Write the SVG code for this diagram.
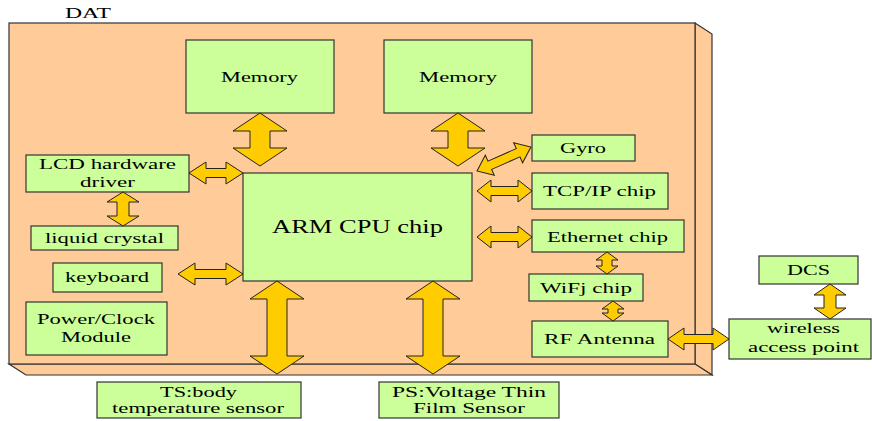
<svg xmlns="http://www.w3.org/2000/svg" width="872" height="421" viewBox="0 0 872 421">
<style>
.bx{fill:#FFCC99;stroke:#333;stroke-width:1.2}
.n{fill:#CCFF99;stroke:#333;stroke-width:1.2}
.a{fill:#FFCC00;stroke:#222;stroke-width:1}
text{font-family:"Liberation Serif","Times New Roman",serif;font-size:15px;fill:#000;text-anchor:middle}
</style>
<rect width="872" height="421" fill="#fff"/>
<g id="dat">
<polygon class="bx" points="695,23 712,34 712,375 695,364"/>
<polygon class="bx" points="9,364 695,364 712,375 26,375"/>
<rect class="bx" x="9" y="23" width="686" height="341"/>
<text x="88" y="18" textLength="46" lengthAdjust="spacingAndGlyphs">DAT</text>
</g>
<g id="mem1"><rect class="n" x="186" y="40" width="148" height="73"/><text x="259.5" y="81.5" textLength="77" lengthAdjust="spacingAndGlyphs">Memory</text></g>
<g id="mem2"><rect class="n" x="384" y="40" width="148" height="73"/><text x="458" y="81.5" textLength="78" lengthAdjust="spacingAndGlyphs">Memory</text></g>
<g id="arm"><rect class="n" x="243" y="173" width="229" height="108"/><text x="357.5" y="233" style="font-size:18px" textLength="171" lengthAdjust="spacingAndGlyphs">ARM CPU chip</text></g>
<g id="lcd"><rect class="n" x="26" y="155" width="163" height="37"/><text x="107.5" y="169" textLength="137" lengthAdjust="spacingAndGlyphs">LCD hardware</text><text x="107.5" y="187" textLength="55" lengthAdjust="spacingAndGlyphs">driver</text></g>
<g id="liquid"><rect class="n" x="31" y="226" width="147" height="24"/><text x="104.5" y="243" textLength="119" lengthAdjust="spacingAndGlyphs">liquid crystal</text></g>
<g id="keyboard"><rect class="n" x="53" y="263" width="109" height="29"/><text x="107" y="282" textLength="84" lengthAdjust="spacingAndGlyphs">keyboard</text></g>
<g id="power"><rect class="n" x="26" y="302" width="141" height="53"/><text x="96" y="324" textLength="118" lengthAdjust="spacingAndGlyphs">Power/Clock</text><text x="96" y="342" textLength="70" lengthAdjust="spacingAndGlyphs">Module</text></g>
<g id="gyro"><rect class="n" x="532" y="135" width="103" height="26"/><text x="583" y="153" textLength="46" lengthAdjust="spacingAndGlyphs">Gyro</text></g>
<g id="tcp"><rect class="n" x="532" y="173" width="136" height="36"/><text x="599.5" y="196" textLength="113" lengthAdjust="spacingAndGlyphs">TCP/IP chip</text></g>
<g id="eth"><rect class="n" x="532" y="220" width="152" height="32"/><text x="607.5" y="242" textLength="121" lengthAdjust="spacingAndGlyphs">Ethernet chip</text></g>
<g id="wifi"><rect class="n" x="529" y="274" width="114" height="27"/><text x="586" y="293" textLength="92" lengthAdjust="spacingAndGlyphs">WiFj chip</text></g>
<g id="rf"><rect class="n" x="532" y="321" width="136" height="36"/><text x="599.5" y="344" textLength="111" lengthAdjust="spacingAndGlyphs">RF Antenna</text></g>
<g id="dcs"><rect class="n" x="759" y="256" width="99" height="28"/><text x="808.5" y="275" textLength="43" lengthAdjust="spacingAndGlyphs">DCS</text></g>
<g id="wap"><rect class="n" x="729" y="319" width="142" height="40"/><text x="803.5" y="333" textLength="73" lengthAdjust="spacingAndGlyphs">wireless</text><text x="803.5" y="352" textLength="111" lengthAdjust="spacingAndGlyphs">access point</text></g>
<g id="ts"><rect class="n" x="97" y="382" width="204" height="36"/><text x="198.5" y="397" textLength="77" lengthAdjust="spacingAndGlyphs">TS:body</text><text x="198" y="413" textLength="172" lengthAdjust="spacingAndGlyphs">temperature sensor</text></g>
<g id="ps"><rect class="n" x="379" y="382" width="180" height="36"/><text x="469" y="397" textLength="154" lengthAdjust="spacingAndGlyphs">PS:Voltage Thin</text><text x="469" y="413" textLength="112" lengthAdjust="spacingAndGlyphs">Film Sensor</text></g>
<g id="connectors">
<polygon class="a" points="260,113 287,131 270,131 270,148 287,148 260,166 233,148 250,148 250,131 233,131"/>
<polygon class="a" points="458,113 485,131 468,131 468,148 485,148 458,166 431,148 448,148 448,131 431,131"/>
<polygon class="a" points="277,281 304,299 287,299 287,356 304,356 277,374 250,356 267,356 267,299 250,299"/>
<polygon class="a" points="433,281 460,299 443,299 443,356 460,356 433,374 406,356 423,356 423,299 406,299"/>
<polygon class="a" points="123,192 139,202 129,202 129,216 139,216 123,226 107,216 117,216 117,202 107,202"/>
<polygon class="a" points="607,252 618,260 612,260 612,266 618,266 607,274 596,266 602,266 602,260 596,260"/>
<polygon class="a" points="613,301 624,309 618,309 618,313 624,313 613,321 602,313 608,313 608,309 602,309"/>
<polygon class="a" points="830,284 846,295 836,295 836,308 846,308 830,319 814,308 824,308 824,295 814,295"/>
<polygon class="a" points="189,173 206,162 206,168.5 226,168.5 226,162 243,173 226,184 226,177.5 206,177.5 206,184"/>
<polygon class="a" points="178,274 195,263 195,269.5 226,269.5 226,263 243,274 226,285 226,278.5 195,278.5 195,285"/>
<polygon class="a" points="477,191 491,180 491,186.5 518,186.5 518,180 532,191 518,202 518,195.5 491,195.5 491,202"/>
<polygon class="a" points="477,237 491,226 491,232.5 518,232.5 518,226 532,237 518,248 518,241.5 491,241.5 491,248"/>
<polygon class="a" points="668,339 684,328 684,334.5 713,334.5 713,328 729,339 713,350 713,343.5 684,343.5 684,350"/>
<polygon class="a" transform="translate(477,171) rotate(-24)" points="0,0 14,-11 14,-4.5 45,-4.5 45,-11 59,0 45,11 45,4.5 14,4.5 14,11"/>
</g>
</svg>
